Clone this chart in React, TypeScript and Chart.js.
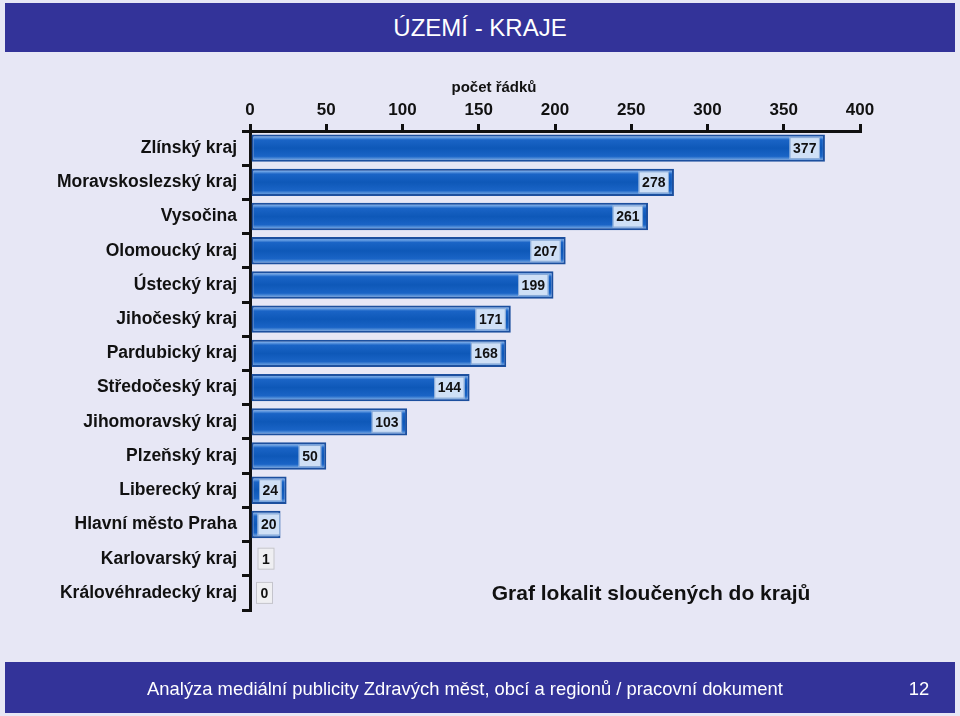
import React, { useEffect, useRef } from "react";
import { Chart, registerables } from "chart.js";

Chart.register(...registerables);

const categories = [
  "Zlínský kraj",
  "Moravskoslezský kraj",
  "Vysočina",
  "Olomoucký kraj",
  "Ústecký kraj",
  "Jihočeský kraj",
  "Pardubický kraj",
  "Středočeský kraj",
  "Jihomoravský kraj",
  "Plzeňský kraj",
  "Liberecký kraj",
  "Hlavní město Praha",
  "Karlovarský kraj",
  "Královéhradecký kraj",
];
const values = [377, 278, 261, 207, 199, 171, 168, 144, 103, 50, 24, 20, 1, 0];
const xMin = 0;
const xMax = 400;
const xStep = 50;
const headerTitle = "ÚZEMÍ - KRAJE";
const axisTitle = "počet řádků";
const chartCaption = "Graf lokalit sloučených do krajů";
const footerText = "Analýza mediální publicity Zdravých měst, obcí a regionů / pracovní dokument";
const pageNumber = "12";

const BAR_PCT = 0.8;
const FONT = "Arial, 'Liberation Sans', Helvetica, sans-serif";

const valueBoxPlugin = {
  id: "valueBoxes",
  afterDatasetsDraw(chart: any) {
    const ctx = chart.ctx;
    const meta = chart.getDatasetMeta(0);
    const data = chart.data.datasets[0].data as number[];
    ctx.save();
    ctx.font = `bold 14px ${FONT}`;
    ctx.textAlign = "center";
    ctx.textBaseline = "middle";
    meta.data.forEach((el: any, i: number) => {
      const v = data[i];
      const txt = String(v);
      const tw = ctx.measureText(txt).width;
      const w = Math.max(tw + 7, 17);
      const h = 22;
      const x = Math.max(el.x - 5 - w, el.base + 6);
      const y = el.y - h / 2;
      const small = v <= 1;
      ctx.fillStyle = small ? "#efeff2" : "#cfe0f6";
      ctx.fillRect(x, y, w, h);
      ctx.lineWidth = 1;
      ctx.strokeStyle = small ? "#c4c4cc" : "#86a8d6";
      ctx.strokeRect(x + 0.5, y + 0.5, w - 1, h - 1);
      ctx.fillStyle = "#111";
      ctx.fillText(txt, x + w / 2, el.y + 1);
    });
    ctx.restore();
  },
};

function barGradient(c: any) {
  const chart = c.chart;
  const y = chart.scales && chart.scales.y;
  if (!y || !chart.chartArea || y.bottom === y.top) return "#0d58b8";
  const slot = (y.bottom - y.top) / categories.length;
  const bh = slot * BAR_PCT;
  const cy = y.getPixelForValue(c.dataIndex);
  const g = chart.ctx.createLinearGradient(0, cy - bh / 2, 0, cy + bh / 2);
  g.addColorStop(0, "#2a62b4");
  g.addColorStop(0.1, "#6ea4e6");
  g.addColorStop(0.2, "#1a64c6");
  g.addColorStop(0.5, "#0e58b8");
  g.addColorStop(0.8, "#1a64c6");
  g.addColorStop(0.9, "#5d96dc");
  g.addColorStop(1, "#2a62b4");
  return g;
}

function ChartCanvas() {
  const ref = useRef<HTMLCanvasElement | null>(null);
  useEffect(() => {
    if (!ref.current) return;
    const chart = new Chart(ref.current, {
      type: "bar",
      data: {
        labels: categories,
        datasets: [
          {
            data: values,
            backgroundColor: barGradient as any,
            borderColor: "#1c4f9e",
            borderWidth: 2,
            borderSkipped: false,
            barPercentage: BAR_PCT,
            categoryPercentage: 1,
          },
        ],
      },
      options: {
        indexAxis: "y",
        responsive: false,
        maintainAspectRatio: false,
        animation: false,
        layout: { padding: { left: 0, right: 100, top: 0, bottom: 106 } },
        plugins: {
          legend: { display: false },
          tooltip: { enabled: false },
          title: { display: false },
        },
        scales: {
          x: {
            type: "linear",
            position: "top",
            min: xMin,
            max: xMax,
            ticks: {
              stepSize: xStep,
              color: "#111",
              font: { family: FONT, size: 17, weight: "bold" },
              padding: 3,
            },
            grid: {
              drawOnChartArea: false,
              drawTicks: true,
              tickLength: 7,
              color: "#111",
              lineWidth: 3,
            },
            border: { display: true, color: "#111", width: 3 },
            afterFit: (s: any) => {
              s.height = 131;
            },
          },
          y: {
            type: "category",
            position: "left",
            ticks: {
              color: "#111",
              font: { family: FONT, size: 17.5, weight: "bold" },
              padding: 5,
            },
            grid: {
              offset: true,
              drawOnChartArea: false,
              drawTicks: true,
              tickLength: 8,
              color: "#111",
              lineWidth: 3,
            },
            border: { display: true, color: "#111", width: 3 },
            afterFit: (s: any) => {
              s.width = 250;
            },
          },
        },
      } as any,
      plugins: [valueBoxPlugin],
    });
    return () => chart.destroy();
  }, []);
  return (
    <canvas
      ref={ref}
      width={960}
      height={716}
      style={{ position: "absolute", left: 0, top: 0, width: 960, height: 716 }}
    />
  );
}

export default function App() {
  return (
    <div
      style={{
        position: "fixed",
        left: 0,
        top: 0,
        width: 960,
        height: 716,
        background: "#e7e7f5",
        fontFamily: FONT,
        overflow: "hidden",
      }}
    >
      <div
        style={{
          position: "absolute",
          left: 5,
          top: 3,
          width: 950,
          height: 49,
          background: "#333399",
          color: "#fff",
          fontSize: 24,
          lineHeight: "49px",
          textAlign: "center",
        }}
      >
        {headerTitle}
      </div>
      <ChartCanvas />
      <div
        style={{
          position: "absolute",
          left: 394,
          top: 77,
          width: 200,
          fontSize: 15,
          fontWeight: "bold",
          color: "#111",
          textAlign: "center",
          lineHeight: "20px",
        }}
      >
        {axisTitle}
      </div>
      <div
        style={{
          position: "absolute",
          left: 451,
          top: 579,
          width: 400,
          fontSize: 21,
          fontWeight: "bold",
          color: "#111",
          textAlign: "center",
          lineHeight: "28px",
        }}
      >
        {chartCaption}
      </div>
      <div
        style={{
          position: "absolute",
          left: 5,
          top: 662,
          width: 950,
          height: 51,
          background: "#333399",
          color: "#fff",
          fontSize: 18.4,
          lineHeight: "51px",
        }}
      >
        <div style={{ position: "absolute", left: 0, width: 920, textAlign: "center", top: 1 }}>
          {footerText}
        </div>
        <div style={{ position: "absolute", left: 899, width: 30, textAlign: "center", top: 1 }}>
          {pageNumber}
        </div>
      </div>
    </div>
  );
}
